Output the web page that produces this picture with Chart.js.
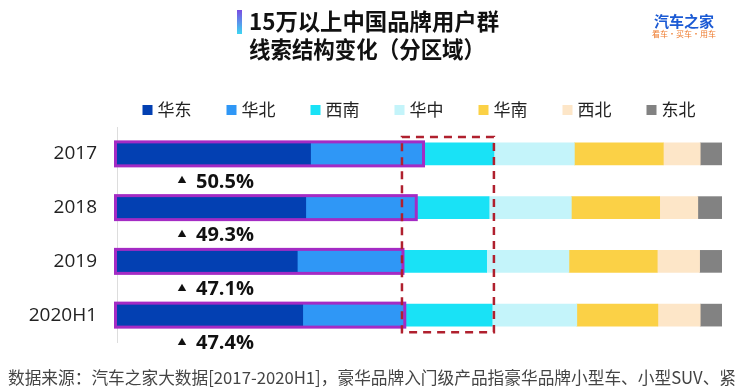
<!DOCTYPE html>
<html>
<head>
<meta charset="utf-8">
<script src="https://cdn.jsdelivr.net/npm/chart.js@4.4.1/dist/chart.umd.min.js"></script>
<style>
html, body { margin: 0; padding: 0; background: #fff; }
canvas { display: block; }
</style>
</head>
<body>
<canvas id="canvas_regiones" width="744" height="392"></canvas>
<script>
'use strict';
var anios    = ['2017', '2018', '2019', '2020H1'];
var regiones = ['华东', '华北', '西南', '华中', '华南', '西北', '东北'];
var huadong  = [32.0, 31.2, 29.8, 30.7];
var huabei   = [18.5, 18.1, 17.3, 16.7];
var xinan    = [11.8, 12.2, 14.0, 14.6];
var huazhong = [13.3, 13.6, 13.6, 14.0];
var huanan   = [14.7, 14.6, 14.6, 13.4];
var xibei    = [ 6.1,  6.3,  7.0,  7.0];
var dongbei  = [ 3.6,  4.0,  3.7,  3.6];
var cuota    = [50.5, 49.3, 47.1, 47.4];

var colores = ['#0340B2', '#2F97F6', '#19E2F6', '#C4F4FA', '#FBD146', '#FDE6C8', '#828282'];
var series  = [huadong, huabei, xinan, huazhong, huanan, xibei, dongbei];

var fuente = "'Open Sans', 'Noto Sans CJK SC', sans-serif";
var fuenteCJK = "'Noto Sans CJK SC', 'Open Sans', sans-serif";

var extras = {
    id : 'extras',

    afterDatasetsDraw : function(chart) {
        var ctx  = chart.ctx,
            area = chart.chartArea,
            ejeX = chart.scales.x,
            m0   = chart.getDatasetMeta(0),
            m1   = chart.getDatasetMeta(1),
            m2   = chart.getDatasetMeta(2);

        ctx.save();
        // contorno morado sobre 华东 + 华北
        ctx.strokeStyle = '#A42BC4';
        ctx.lineWidth   = 3;
        m1.data.forEach(function(bar, i) {
            var izq = m0.data[i].base;
            var top = bar.y - bar.height / 2;
            ctx.strokeRect(izq - 1.5, top - 1, bar.x - izq + 2.5, bar.height + 2);
        });

        // recuadro rojo punteado
        var minimo = Math.min.apply(null, cuota);
        var xIzq = ejeX.getPixelForValue(minimo);
        var xDer = Math.max.apply(null, m2.data.map(function(b) { return b.x; }));
        var primero = m0.data[0], ultimo = m0.data[m0.data.length - 1];
        var yArr = primero.y - primero.height / 2 - 6;
        var yAba = ultimo.y + ultimo.height / 2 + 6;
        ctx.strokeStyle = '#B0202E';
        ctx.lineWidth   = 2.5;
        ctx.setLineDash([8, 6]);
        ctx.strokeRect(xIzq, yArr, xDer - xIzq, yAba - yArr);
        ctx.setLineDash([]);

        // etiquetas de porcentaje
        ctx.fillStyle    = '#111';
        ctx.textBaseline = 'middle';
        m0.data.forEach(function(bar, i) {
            var y = bar.y + 28;
            ctx.font      = '9px ' + fuente;
            ctx.textAlign = 'center';
            ctx.fillText('▲', area.left + 65, y - 1);
            ctx.font      = 'bold 20px ' + fuente;
            ctx.textAlign = 'left';
            ctx.fillText(cuota[i].toFixed(1) + '%', area.left + 79, y);
        });
        ctx.restore();
    },

    afterDraw : function(chart) {
        var ctx  = chart.ctx,
            area = chart.chartArea;
        ctx.save();

        // titulo
        var grad = ctx.createLinearGradient(0, 10, 0, 34);
        grad.addColorStop(0, '#7A4DE2');
        grad.addColorStop(1, '#3DD6F2');
        ctx.fillStyle = grad;
        ctx.fillRect(237, 10, 5, 24);
        ctx.fillStyle    = '#111';
        ctx.textAlign    = 'left';
        ctx.textBaseline = 'middle';
        ctx.font = 'bold 23px ' + fuenteCJK;
        ctx.fillText('15万以上中国品牌用户群', 249, 21, 250);
        ctx.fillText('线索结构变化（分区域）', 249, 49, 236);

        // logo
        ctx.textAlign = 'center';
        ctx.fillStyle = '#1B5AD4';
        ctx.font = 'bold 15px ' + fuenteCJK;
        ctx.fillText('汽车之家', 684, 21);
        ctx.fillStyle = '#EE7A2C';
        ctx.font = '8px ' + fuenteCJK;
        ctx.fillText('看车·买车·用车', 684, 34);

        // leyenda
        ctx.font = '17px ' + fuenteCJK;
        var paso = 84;
        var ultimoAncho = 16 + ctx.measureText(regiones[regiones.length - 1]).width;
        var total = paso * (regiones.length - 1) + ultimoAncho;
        var x0 = (area.left + area.right) / 2 - total / 2;
        ctx.textAlign = 'left';
        chart.data.datasets.forEach(function(ds, i) {
            var x = x0 + i * paso;
            ctx.fillStyle = ds.backgroundColor;
            ctx.fillRect(x, 105, 10, 10);
            ctx.fillStyle = '#222';
            ctx.fillText(ds.label, x + 15, 110);
        });

        // fuente de datos
        ctx.fillStyle = '#444';
        ctx.font = '17px ' + fuenteCJK;
        ctx.fillText('数据来源：汽车之家大数据[2017-2020H1]，豪华品牌入门级产品指豪华品牌小型车、小型SUV、紧', 8, 378, 728);
        ctx.restore();
    }
};

var datosRegiones = {
    type : 'bar',

    data : {
        labels   : anios,
        datasets : series.map(function(valores, i) {
            return {
                label           : regiones[i],
                data            : valores,
                backgroundColor : colores[i],
                borderWidth     : 0,
                barThickness    : 22,
            };
        }),
    },

    options : {
        indexAxis  : 'y',
        responsive : false,
        animation  : false,
        layout     : {
            padding : { top : 127, bottom : 50, left : 0, right : 22 }
        },
        scales : {
            x : {
                display : false,
                stacked : true,
                min     : 0,
                max     : 100,
            },
            y : {
                stacked : true,
                grid    : { display : false, drawTicks : false },
                border  : { display : true, color : '#DDDDDD', width : 1 },
                ticks   : {
                    color   : '#222',
                    padding : 20,
                    font    : { size : 19, family : fuente },
                },
                afterFit : function(escala) { escala.width = 117; },
            },
        },
        plugins : {
            legend  : { display : false },
            title   : { display : false },
            tooltip : { enabled : false },
        },
    },
    plugins : [extras],
};

var canvasRe = document.getElementById('canvas_regiones').getContext('2d');
window.barras = new Chart(canvasRe, datosRegiones);
</script>
</body>
</html>
